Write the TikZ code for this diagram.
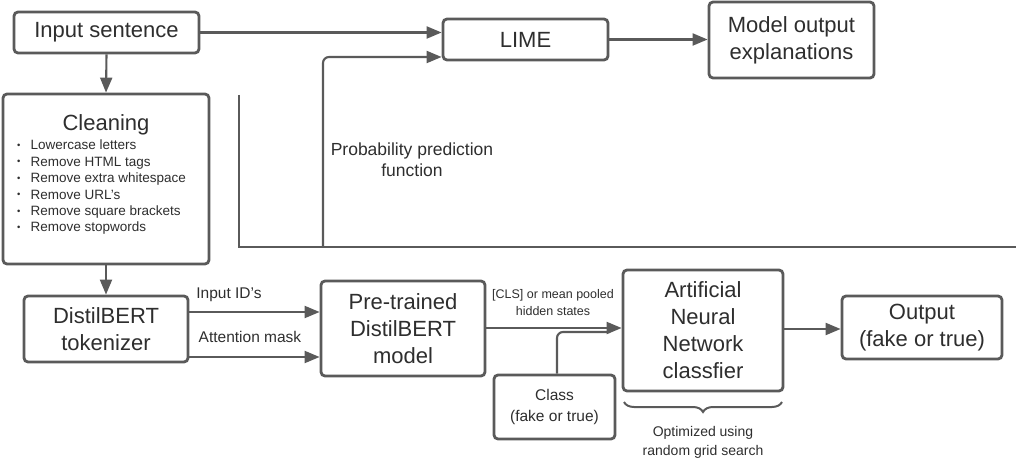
\documentclass[tikz,border=0pt]{standalone}
\usepackage{fontspec}
\setmainfont{Liberation Sans}
\usetikzlibrary{arrows.meta,decorations.pathreplacing}
\definecolor{ln}{HTML}{5A5A5A}
\definecolor{tx}{HTML}{2E2E2E}
\tikzset{
  box/.style={draw=ln,line width=2.8pt,rounded corners=4pt,fill=white,inner sep=0pt,text=tx,align=center,font=\fontsize{22}{27}\selectfont},
  arr/.style={draw=ln,line width=2.1pt,-{Triangle[length=15pt,width=12pt]}},
  lin/.style={draw=ln,line width=2.1pt},
  lbl/.style={text=tx,inner sep=0pt,align=center},
}
\newcommand{\bul}{\raisebox{0.2ex}{\scalebox{0.7}{\textbullet}}\hspace{10pt}}
\begin{document}
\begin{tikzpicture}[x=1pt,y=-1pt]
\useasboundingbox (0,0) rectangle (1019,462);
% boxes
\node[box,minimum width=185pt,minimum height=41pt] (inp) at (106.5,32.5) {Input sentence};
\node[box,minimum width=165pt,minimum height=41pt] (lime) at (525.5,39.5) {LIME};
\node[box,minimum width=165pt,minimum height=76pt] (mod) at (791.5,40) {Model output\\explanations};
\node[box,minimum width=206pt,minimum height=170pt] (clean) at (106,179) {};
\node[lbl,font=\fontsize{22}{27}\selectfont] (cleant) at (106,125) {Cleaning};
\node[lbl,anchor=north west,align=left,font=\fontsize{13.5}{16.4}\selectfont] (cleanl) at (17,140) {%
\bul Lowercase letters\\
\bul Remove HTML tags\\
\bul Remove extra whitespace\\
\bul Remove URL's\\
\bul Remove square brackets\\
\bul Remove stopwords};
\node[box,minimum width=164pt,minimum height=66pt] (tok) at (106,329) {DistilBERT\\tokenizer};
\node[box,minimum width=164pt,minimum height=95pt] (pre) at (403,328.5) {Pre-trained\\DistilBERT\\model};
\node[box,minimum width=160pt,minimum height=121pt] (ann) at (703,330.5) {Artificial\\Neural\\Network\\classfier};
\node[box,minimum width=121pt,minimum height=64pt,font=\fontsize{15.5}{21}\selectfont] (cls) at (554.5,407) {Class\\(fake or true)};
\node[box,minimum width=160pt,minimum height=63pt] (out) at (922,327.5) {Output\\(fake or true)};
% top connectors
\draw[arr] (inp.east) -- (lime.west |- inp.east);
\draw[arr] (lime.east) -- (mod.west |- lime.east);
\coordinate (vl) at (239,95);
\coordinate (bl) at (239,247);
\coordinate (br) at (1016,247);
\coordinate (pv) at (323,247);
\draw[lin] (vl) -- (bl) -- (br);
\draw[arr,rounded corners=6pt] (pv) -- (323,57) -- (lime.west |- 0,57);
\node[lbl,font=\fontsize{17.5}{21}\selectfont] (prob) at (412,160) {Probability prediction\\function};
% left column
\draw[arr] (inp.south) -- (clean.north);
\draw[arr] (clean.south) -- (tok.north);
\draw[arr] (tok.east |- 0,312) -- (pre.west |- 0,312);
\draw[arr] (tok.east |- 0,357) -- (pre.west |- 0,357);
\node[lbl,font=\fontsize{15.5}{19}\selectfont] (ids) at (229,295) {Input ID's};
\node[lbl,font=\fontsize{15.5}{19}\selectfont] (att) at (250,337) {Attention mask};
% right part
\draw[arr] (pre.east |- 0,328) -- (ann.west |- 0,328);
\draw[lin,rounded corners=6pt] (cls.north -| 557,0) -- (557,332) -- ([xshift=-12pt]ann.west |- 0,332);
\node[lbl,font=\fontsize{12.5}{17}\selectfont] (hid) at (553,303) {[CLS] or mean pooled\\hidden states};
\draw[arr] (ann.east |- 0,329) -- (out.west |- 0,329);
\draw[ln,line width=2pt,decorate,decoration={brace,mirror,amplitude=10pt}] (624,402) -- (782,402);
\node[lbl,font=\fontsize{14}{19}\selectfont] (opt) at (703,442) {Optimized using\\random grid search};
\end{tikzpicture}
\end{document}
